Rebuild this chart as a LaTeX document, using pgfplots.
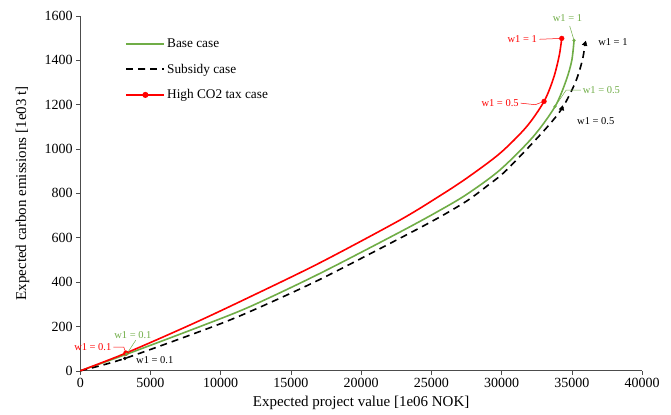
\documentclass[border=0pt]{standalone}
\usepackage{pgfplots}
\pgfplotsset{compat=1.18}
\usepackage{fontspec}
\setmainfont{Liberation Serif}
\definecolor{exgreen}{RGB}{112,173,71}
\begin{document}
\begin{tikzpicture}
\begin{axis}[
  scale only axis,
  width=562pt, height=355pt,
  xmin=0, xmax=40000, ymin=0, ymax=1600,
  xtick={0,5000,...,40000}, ytick={0,200,...,1600},
  scaled x ticks=false, scaled y ticks=false,
  /pgf/number format/1000 sep={},
  /pgf/number format/assume math mode=true,
  axis lines=left, axis line style={-, draw=black!70, line width=0.7pt},
  tick style={draw=black!70, line width=0.6pt},
  tick align=outside, major tick length=4pt,
  ticklabel style={font=\fontsize{14}{16}\selectfont},
  xlabel={Expected project value [1e06 NOK]},
  ylabel={Expected carbon emissions [1e03 t]},
  label style={font=\fontsize{15}{17}\selectfont},
  xlabel style={at={(axis description cs:0.5,-0.09)}, anchor=center},
  ylabel style={at={(axis description cs:-0.103,0.5)}, anchor=center},
  clip=false,
  legend style={draw=none, fill=none, at={(0.075,0.948)}, anchor=north west,
    font=\fontsize{13.3}{15}\selectfont, row sep=11pt},
  legend cell align=left,
  legend image code/.code={\draw[mark repeat=2, mark phase=2, #1] plot coordinates {(0pt,0pt) (19pt,0pt) (38pt,0pt)};},
]
\addlegendimage{exgreen, line width=1.6pt}
\addlegendentry{Base case}
\addlegendimage{black, line width=1.6pt, dash pattern=on 7pt off 5pt}
\addlegendentry{Subsidy case}
\addlegendimage{red, line width=1.6pt, mark=*, mark size=2.2pt}
\addlegendentry{High CO2 tax case}
\addplot[exgreen, line width=1.6pt, smooth, tension=0.5, forget plot] coordinates {
(0,0)(3300,75)(8540,200)(12100,290)(17060,439)(22740,625)(25500,720)(27500,795)(29870,905)(32240,1055)(33808,1192)(34600,1310)(35000,1400)(35160,1490)};
\addplot[black, line width=1.6pt, dash pattern=on 7pt off 5pt, smooth, tension=0.5, forget plot] coordinates {
(0,0)(3180,56)(9470,200)(12580,281)(17060,412)(22740,597)(25500,690)(27500,765)(29000,835)(30350,905)(32950,1078)(34300,1183)(35250,1300)(35750,1400)(35943,1474)};
\addplot[red, line width=1.6pt, smooth, tension=0.5, forget plot] coordinates {
(0,0)(3250,80)(8000,212)(12100,334)(17060,487)(22740,679)(25500,785)(27500,868)(29870,980)(31770,1100)(33025,1215)(33700,1320)(34100,1420)(34285,1499)};
% markers
\addplot[only marks, red, mark=*, mark size=2.4pt, forget plot] coordinates {(3250,80)(33025,1215)(34285,1499)};
\addplot[only marks, exgreen, mark=*, mark size=1.4pt, forget plot] coordinates {(3300,75)(33808,1192)(35160,1490)};
\addplot[only marks, black, mark=*, mark size=1.6pt, forget plot] coordinates {(3180,56)};
\addplot[only marks, black, mark=triangle*, mark size=2.8pt, mark options={rotate=-15}, forget plot] coordinates {(34300,1183)(35943,1474)};
% annotations
\tikzset{ann/.style={font=\fontsize{10.5}{12}\selectfont, inner sep=1pt}}
\node[ann, text=exgreen] at (axis cs:34690,1590) {w1 = 1};
\draw[exgreen, line width=0.5pt] (axis cs:34850,1555) -- (axis cs:35160,1490);
\node[ann, text=red, anchor=east] at (axis cs:32600,1495) {w1 = 1};
\draw[red, line width=0.5pt] (axis cs:32700,1495) -- (axis cs:34285,1499);
\node[ann, text=black, anchor=west] at (axis cs:36800,1483) {w1 = 1};
\node[ann, text=exgreen, anchor=west] at (axis cs:35700,1266) {w1 = 0.5};
\draw[exgreen, line width=0.5pt] (axis cs:35650,1266) -- (axis cs:34600,1266) -- (axis cs:33808,1192);
\node[ann, text=red, anchor=east] at (axis cs:31300,1207) {w1 = 0.5};
\draw[red, line width=0.5pt] (axis cs:31350,1207) -- (axis cs:32400,1200) -- (axis cs:33025,1215);
\node[ann, text=black, anchor=west] at (axis cs:35300,1126) {w1 = 0.5};
\node[ann, text=exgreen] at (axis cs:3750,161) {w1 = 0.1};
\draw[exgreen, line width=0.5pt] (axis cs:3950,138) -- (axis cs:3300,75);
\node[ann, text=red, anchor=east] at (axis cs:2300,107) {w1 = 0.1};
\draw[red, line width=0.5pt] (axis cs:2350,107) -- (axis cs:3100,107) -- (axis cs:3250,80);
\node[ann, text=black, anchor=west] at (axis cs:3900,50) {w1 = 0.1};
\coordinate (ll) at (rel axis cs:0,0);
\coordinate (ur) at (rel axis cs:1,1);
\end{axis}
\pgfresetboundingbox
\path[use as bounding box] ([shift={(-80.3pt,-43.3pt)}]ll) rectangle ([shift={(29pt,16pt)}]ur);
\end{tikzpicture}
\end{document}
